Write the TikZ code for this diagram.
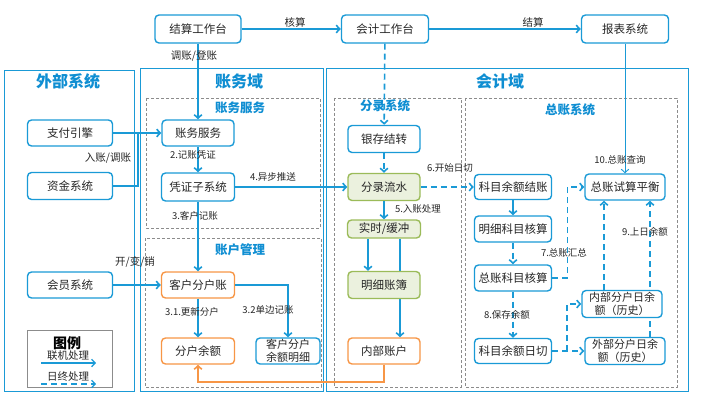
\documentclass[tikz,border=0pt]{standalone}
\usepackage{fontspec}
\setmainfont{Noto Sans CJK SC}
\usetikzlibrary{arrows.meta,backgrounds}
\definecolor{FlowBlue}{HTML}{1A9AD6}
\definecolor{TitleBlue}{HTML}{0F8ED2}
\definecolor{AcctOrange}{HTML}{F79646}
\definecolor{BufGreen}{HTML}{9BBB59}
\definecolor{BufFill}{HTML}{EBF1DE}
\definecolor{FrameGray}{HTML}{8C8C8C}
\definecolor{TextInk}{HTML}{262626}

\begin{document}
\begin{tikzpicture}[x=1pt,y=-1pt,>={Straight Barb[length=3.5pt,width=7.5pt]},
  sysbox/.style={draw=FlowBlue,line width=1.4pt,rounded corners=4pt,fill=white,
    minimum width=73pt,minimum height=26pt,inner sep=1pt,text=TextInk,
    align=center,font=\fontsize{11.5}{13}\selectfont},
  acctbox/.style={sysbox,draw=AcctOrange},
  bufbox/.style={sysbox,draw=BufGreen,fill=BufFill},
  domainframe/.style={draw=FlowBlue,line width=0.9pt},
  subframe/.style={draw=FrameGray,line width=0.7pt,dash pattern=on 3pt off 2pt},
  domaintitle/.style={text=TitleBlue,font=\fontsize{16}{18}\selectfont\bfseries},
  subtitle/.style={text=TitleBlue,font=\fontsize{12.5}{14}\selectfont\bfseries},
  lbl/.style={text=TextInk,inner sep=0.5pt,font=\fontsize{9.5}{11}\selectfont},
  biglbl/.style={lbl,font=\fontsize{10.5}{12}\selectfont},
  link/.style={->,draw=FlowBlue,line width=1.6pt},
  batch/.style={link,dash pattern=on 6pt off 4pt},
  orangelink/.style={link,draw=AcctOrange}]
  \useasboundingbox (0,0) rectangle (701,398);

  % domains and sub systems
  \draw[domainframe] (4,70) rectangle (134,391);
  \draw[domainframe] (140,68) rectangle (323,391);
  \draw[domainframe] (326,68) rectangle (688,391);
  \draw[subframe] (146,98) rectangle (320,228);
  \draw[subframe] (145,238) rectangle (321,387);
  \draw[subframe] (334,98) rectangle (461,387);
  \draw[subframe] (465,98) rectangle (677,387);
  \node[domaintitle] (tWaibu) at (68,81) {外部系统};
  \node[domaintitle] (tZhangwu) at (239,81) {账务域};
  \node[domaintitle] (tKuaiji) at (500,81) {会计域};
  \node[subtitle] (tFuwu) at (240,108) {账务服务};
  \node[subtitle] (tGuanli) at (240,250) {账户管理};
  \node[subtitle] (tFenlu) at (385,106) {分录系统};
  \node[subtitle] (tZongzhang) at (570,110) {总账系统};

  % workbenches
  \node[sysbox,minimum width=86pt,minimum height=28pt] (jiesuan) at (198,29) {结算工作台};
  \node[sysbox,minimum width=87pt,minimum height=28pt] (kuaiji) at (385,29) {会计工作台};
  \node[sysbox,minimum width=87pt,minimum height=28pt] (baobiao) at (625,29) {报表系统};

  % external systems
  \node[sysbox,minimum width=85pt] (zfyq) at (70,133) {支付引擎};
  \node[sysbox,minimum width=85pt,minimum height=27pt] (zjxt) at (70,186) {资金系统};
  \node[sysbox,minimum width=85pt] (hyxt) at (70,285) {会员系统};

  % accounting service
  \node[sysbox,minimum width=72pt] (zwfw) at (198,133) {账务服务};
  \node[sysbox,minimum height=28pt] (pzzxt) at (198,187) {凭证子系统};
  \node[acctbox] (khfhz) at (198,285) {客户分户账};
  \node[acctbox] (fhye) at (198,351) {分户余额};
  \node[sysbox,minimum width=64pt,font=\fontsize{11}{12.5}\selectfont] (khmx) at (288,351) {客户分户\\余额明细};

  % journal system
  \node[sysbox,minimum width=72pt,minimum height=27pt] (ycjz) at (384,139) {银存结转};
  \node[bufbox,minimum width=72pt,minimum height=27pt] (flsh) at (384,187) {分录流水};
  \node[bufbox,minimum height=18pt] (ssbc) at (384,229) {实时/缓冲};
  \node[bufbox,minimum width=72pt,minimum height=27pt] (mxzb) at (384,285) {明细账簿};
  \node[acctbox,minimum width=72pt] (nbzh) at (384,351) {内部账户};

  % general ledger
  \node[sysbox,minimum width=77pt,minimum height=25pt] (kmjz) at (513,187) {科目余额结账};
  \node[sysbox,minimum width=77pt] (mxkm) at (513,229) {明细科目核算};
  \node[sysbox,minimum width=77pt] (zzkm) at (513,278) {总账科目核算};
  \node[sysbox,minimum width=77pt,minimum height=25pt] (kmrq) at (513,351) {科目余额日切};
  \node[sysbox,minimum width=80pt] (sspg) at (625,187) {总账试算平衡};
  \node[sysbox,minimum width=80pt,minimum height=27pt,font=\fontsize{11}{12.5}\selectfont] (nbfh) at (622,304) {内部分户日余\\额（历史）};
  \node[sysbox,minimum width=80pt,minimum height=27pt,font=\fontsize{11}{12.5}\selectfont] (wbfh) at (625,351) {外部分户日余\\额（历史）};

  % connectors
  \begin{scope}[on background layer]
    \draw[link] ([xshift=16pt]ssbc.south) -- ([xshift=16pt]nbzh.north);
    \draw[batch] ([xshift=25pt]wbfh.north) -- ([xshift=25pt]wbfh.north |- sspg.south);
  \end{scope}
  \coordinate (joinA) at (138,133);
  \draw[link] (jiesuan) -- (kuaiji);
  \draw[link] (kuaiji) -- (baobiao);
  \draw[link] (jiesuan) -- (zwfw);
  \draw[link] (zfyq) -- (zwfw);
  \draw[draw=FlowBlue,line width=1.6pt] (zjxt.east) -| (joinA);
  \draw[link] (zwfw) -- (pzzxt);
  \draw[link] (pzzxt) -- (khfhz);
  \draw[link] (pzzxt) -- (flsh);
  \draw[link] (hyxt) -- (khfhz);
  \draw[link] (khfhz) -- (fhye);
  \draw[link] (khfhz.east) -| (khmx.north);
  \draw[orangelink] (nbzh.south) -- ++(0,17) -| (fhye.south);
  \draw[batch] (kuaiji) -- (ycjz);
  \draw[batch] (ycjz) -- (flsh);
  \draw[link] (flsh) -- (ssbc);
  \draw[link] ([xshift=-16pt]ssbc.south) -- ([xshift=-16pt]mxzb.north);
  \draw[->,draw=FlowBlue,line width=0.9pt] (baobiao) -- (sspg);
  \draw[batch] (flsh) -- (kmjz);
  \draw[link] (kmjz) -- (mxkm);
  \draw[batch] (mxkm) -- (zzkm);
  \draw[batch] (zzkm.east) -| ([xshift=-17pt]sspg.west) -- (sspg.west);
  \draw[batch] (zzkm) -- (kmrq);
  \draw[batch] (kmrq) -- (wbfh);
  \draw[batch] ([xshift=15pt]kmrq.east) |- (nbfh.west);
  \draw[batch] ([xshift=-18pt]nbfh.north) -- ([xshift=-18pt]nbfh.north |- sspg.south);

  % connector labels
  \node[biglbl] (lHesuan) at (295,22) {核算};
  \node[biglbl] (lJiesuan) at (533,22) {结算};
  \node[biglbl] (lTiaozhang) at (194,56) {调账/登账};
  \node[biglbl] (lRuzhang) at (108,158) {入账/调账};
  \node[biglbl] (lKaibian) at (135,262) {开/变/销};
  \node[lbl] (lStepB) at (193,155) {2.记账凭证};
  \node[lbl] (lStepC) at (195,216) {3.客户记账};
  \node[lbl] (lStepD) at (273,177) {4.异步推送};
  \node[lbl] (lStepCa) at (192,312) {3.1.更新分户};
  \node[lbl] (lStepCb) at (268,310) {3.2单边记账};
  \node[lbl] (lStepE) at (418,209) {5.入账处理};
  \node[lbl] (lStepF) at (450,168) {6.开始日切};
  \node[lbl] (lStepG) at (564,253) {7.总账汇总};
  \node[lbl] (lStepH) at (507,315) {8.保存余额};
  \node[lbl] (lStepI) at (645,232) {9.上日余额};
  \node[lbl] (lStepJ) at (620,160) {10.总账查询};

  % legend
  \node[draw=FrameGray,line width=0.8pt,minimum width=85pt,minimum height=57pt] (legend) at (69.5,358.5) {};
  \coordinate (lgA) at (41,363);
  \coordinate (lgB) at (96,363);
  \coordinate (lgC) at (41,384);
  \coordinate (lgD) at (96,384);
  \draw[link,line width=1.3pt] (lgA) -- (lgB);
  \draw[batch,line width=1.3pt] (lgC) -- (lgD);
  \node[font=\fontsize{14}{16}\selectfont\bfseries,text=black] (lgTitle) at (67,343) {图例};
  \node[biglbl] (lgOnline) at (68,356) {联机处理};
  \node[biglbl] (lgDaily) at (68,377) {日终处理};
\end{tikzpicture}
\end{document}
